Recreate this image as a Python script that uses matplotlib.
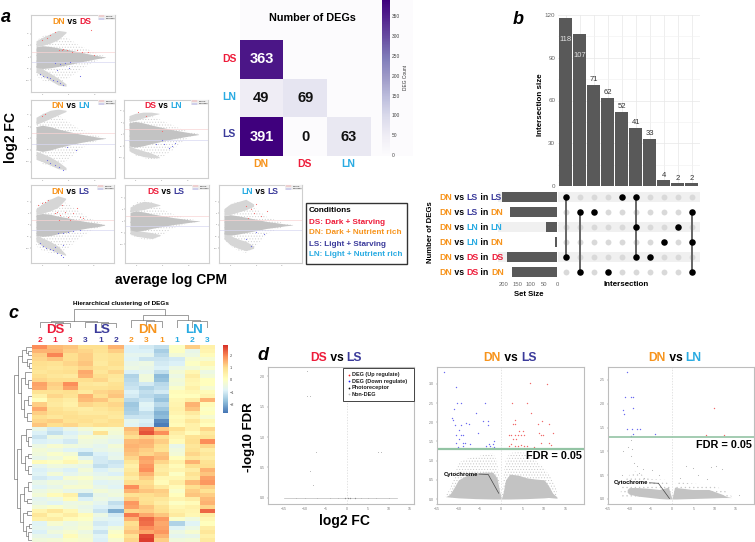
import numpy as np
import matplotlib
matplotlib.use("Agg")
import matplotlib.pyplot as plt
from matplotlib.colors import LinearSegmentedColormap
from matplotlib.lines import Line2D
from matplotlib.patches import Rectangle

plt.rcParams["font.family"] = ["Liberation Sans", "DejaVu Sans"]
plt.rcParams["hatch.linewidth"] = 0.4

W, H = 755, 542

DN = "#F7941D"
DS = "#EE1C3A"
LS = "#3B3B9B"
LN = "#29ABE2"
COND = {"DN": DN, "DS": DS, "LS": LS, "LN": LN}

# MA plots: shared log CPM grids and the outline of each cloud
MA_CPM = [-1.2, 0, 1.5, 3, 5, 7, 9, 10.5, 12]
WING_CPM = [-1.2, 0, 1.5, 3, 4.5]

DN_DS_BODY = [4.4, 4.9, 4.6, 4.0, 3.2, 2.2, 1.3, 0.6, 0.05]
DN_DS_UP = [7, 9, 10, 10.5, 8, 5, 3, 1.5, 0.3]
DN_DS_LOW = [-8, -10, -11, -11, -9, -6, -3, -1.5, -0.3]
DN_DS_WING = [[4.5, 5, 6, 7.5, 10.5], [7, 8.5, 10, 11.5, 11], [-3.5, -5, -7, -9, -11.5], [-6.5, -8, -10, -12, -12.5]]
DN_DS_RED = [[3.1, 3.7, 4.0, 4.7, 5.6, 6.6, 7.6, 8.7, 9.2, 9.8, 1.5, 2.4, 0.8, -0.1],
             [3.1, 2.9, 3.4, 3.1, 2.4, 3.1, 2.4, 2.0, 11.7, 1.0, 9.6, 11.0, 8.1, 7.4]]
DN_DS_BLUE = [[-0.4, 0.2, 0.8, 1.5, 2.1, 2.8, 3.4, 4.0, 2.4, 3.4, 4.4, 5.3, 2.8, 5.0, 7.2],
              [-7.1, -8, -8.6, -9, -9.7, -10.4, -11.1, -11.9, -2.6, -2.9, -2.6, -2.3, -5.4, -4.7, -8.3]]

DN_LN_BODY = [5.0, 5.6, 5.0, 4.0, 2.9, 1.9, 1.1, 0.5, 0.05]
DN_LN_UP = [8, 10.5, 11, 10, 7, 4, 2.5, 1, 0.2]
DN_LN_LOW = [-8, -11, -12, -12, -9, -5, -2.5, -1, -0.2]
DN_LN_WING = [[6, 7, 8.5, 10, 11.5], [9, 10.5, 12, 12.5, 12], [-5.5, -6.5, -8, -10, -12.5], [-9, -10, -11.5, -13, -13.5]]
DN_LN_RED = [[-0.1, 0.5], [9.5, 10.5]]
DN_LN_BLUE = [[0.8, 1.5, 2.4, 3.1, 4.0, 4.7, 6.3], [-9.3, -10.7, -11.4, -12.1, -13.5, -3.6, -5.0]]

DS_LN_BODY = [5.0, 5.5, 4.9, 4.0, 3.0, 2.0, 1.2, 0.6, 0.1]
DS_LN_UP = [7, 8.5, 9, 8, 6, 4, 2, 0.9, 0.2]
DS_LN_LOW = [-7, -9, -10, -11, -10, -7, -3, -1, -0.2]
DS_LN_WING = [[5.5, 6, 7, 8, 8.8], [8, 9, 9.5, 9.5, 9], [-5, -6, -7, -8, -9.5], [-7, -8.5, -9.5, -10, -10]]
DS_LN_RED = [[0.5, 2.0, 5.0], [9.5, 8.0, 1.5]]
DS_LN_BLUE = [[5.5, 5.0, 7.0, 6.3, 7.5, 4.0], [-4, -2.5, -5, -6, -3.5, -4]]

DN_LS_BODY = [4.4, 4.9, 4.6, 3.8, 3.0, 2.0, 1.2, 0.8, 0.1]
DN_LS_UP = [8, 10, 11, 11, 9, 6, 3, 1.5, 0.3]
DN_LS_LOW = [-9, -11, -12, -12, -10, -6, -3, -1.5, -0.3]
DN_LS_WING = [[4.5, 5, 6, 7.5, 11], [7, 9, 11, 12.5, 11.5], [-4, -5.5, -7, -9, -12.5], [-7, -9, -10.5, -12, -13]]
DN_LS_RED = [[-0.8, -0.1, 0.5, 1.2, 2.8, 3.4, 4.3, 5.0, 6.0, 6.6, 7.2, 7.9, 3.8, 2.4, 3.3, 5.3],
             [8.6, 9.3, 10, 10.7, 5.7, 4.3, 5.7, 3.6, 5, 7.1, 3.6, 2.9, 8.6, 5, 2.1, 2.1]]
DN_LS_BLUE = [[-0.4, 0.2, 0.8, 1.5, 2.1, 2.8, 3.7, 3.1, 4.0, 5.0, 6.0, 7.2, 4.0, 2.4, 4.0],
              [-7.9, -9, -9.7, -10.1, -10.7, -12.1, -12.9, -3.3, -3.6, -3, -2.7, -2.1, -8.6, -9.3, -13.9]]

DS_LS_BODY = [3.8, 4.4, 3.9, 3.1, 2.3, 1.5, 0.9, 0.4, 0.05]
DS_LS_UP = [6, 8, 9, 8, 5, 3, 1.5, 0.7, 0.2]
DS_LS_LOW = [-6, -7, -8, -8, -6, -3, -1.5, -0.7, -0.2]
DS_LS_WING = [[4, 4.5, 5, 6, 6.8], [6, 7.5, 8.5, 8, 7], [-3.5, -4, -4.5, -5, -5.8], [-5.5, -6.5, -7, -7.5, -6.2]]

LN_LS_BODY = [3.9, 4.4, 3.9, 3.3, 2.4, 1.5, 0.9, 0.4, 0.05]
LN_LS_UP = [6, 9, 10, 10, 7, 3.5, 1.8, 0.6, 0.1]
LN_LS_LOW = [-6, -9, -11, -12, -9, -4, -2, -0.6, -0.1]
LN_LS_WING = [[4, 4.5, 5.5, 6.5, 8], [7, 9, 10, 11, 9], [-3.5, -4.5, -6, -7, -9], [-6, -8.5, -10, -11, -10]]
LN_LS_RED = [[3, 4, 4.5, 5, 6, 7, 3.5], [8, 7, 5, 9, 4, 6, 3]]
LN_LS_BLUE = [[3, 5, 4, 6.5], [-6, -3, -9, -4]]

# number of DEGs per pair of conditions
DEG_ROWS = ["DS", "LN", "LS"]
DEG_COLS = ["DN", "DS", "LN"]
DEG_COUNTS = [[363, np.nan, np.nan],
              [49, 69, np.nan],
              [391, 0, 63]]

# upset plot
INTERSECT_SIZES = [118, 107, 71, 62, 52, 41, 33, 4, 2, 2]
SET_SIZES = [209, 177, 41, 6, 190, 169]
SET_NAMES = [("DN", "LS", "LS"), ("DN", "LS", "DN"), ("DN", "LN", "LN"),
             ("DN", "LN", "DN"), ("DN", "DS", "DS"), ("DN", "DS", "DN")]
MEMBERS = [[0, 4], [1, 5], [1], [5], [0], [0, 2, 4], [4], [3], [2], [1, 3, 5]]

# heatmap, columns follow HEAT_LABELS
HEAT_LABELS = ["2", "1", "3", "3", "1", "2", "2", "3", "1", "1", "2", "3"]
HEAT_COLORS = [DS] * 3 + [LS] * 3 + [DN] * 3 + [LN] * 3
HEAT = [
    [1.9, 1.4, 1.3, 1.0, 1.0, 1.5, -0.9, -1.0, -1.2, 0.0, 1.2, 0.5],
    [1.5, 1.5, 1.2, 1.1, 0.9, 1.2, -0.9, -0.9, -1.5, 0.0, -0.6, 0.4],
    [1.2, 2.0, 1.0, 1.2, 0.8, 0.9, -0.7, -0.7, -1.3, -0.3, -0.5, 0.2],
    [1.1, 1.3, 1.0, 1.2, 0.8, 0.9, -0.8, -1.1, -1.1, -1.0, -0.2, -0.2],
    [1.0, 0.9, 1.1, 1.3, 0.7, 1.0, -0.6, -0.5, -1.0, -0.9, 0.0, 0.3],
    [0.9, 0.8, 0.9, 1.1, 0.9, 0.8, -0.5, -0.6, -0.9, -0.5, -0.3, -0.1],
    [0.8, 0.9, 1.0, 1.6, 0.8, 1.1, -0.9, -0.7, -1.2, -0.3, 0.3, -0.5],
    [1.0, 0.8, 0.7, 1.5, 1.0, 0.8, -1.4, -0.4, -1.8, -0.5, 0.6, -0.3],
    [1.1, 1.0, 1.0, 1.0, 1.1, 0.7, -1.3, -0.4, -1.7, -0.3, 0.4, 0.1],
    [1.7, 1.2, 1.9, 0.8, 0.7, 0.9, -1.2, -1.0, -1.3, -0.4, 0.3, 0.1],
    [1.6, 1.1, 1.7, 0.9, 0.9, 1.0, -1.1, -1.4, -1.2, -0.1, 0.5, -0.2],
    [0.9, 0.9, 1.0, 0.7, 1.1, 1.2, -0.9, -1.2, -1.0, 0.2, 0.3, 0.2],
    [0.5, 1.1, 0.9, 1.5, 1.0, 1.3, -1.0, -1.3, -1.5, 0.1, 0.1, 0.4],
    [0.1, 0.8, 0.6, 1.4, 1.3, 0.9, -1.3, -1.1, -1.7, 0.3, 0.6, 1.5],
    [1.2, 0.7, 0.5, 1.1, 1.0, 1.1, -1.6, -0.8, -1.3, 0.4, 1.5, 0.2],
    [1.6, 0.9, 0.7, 0.6, 0.8, 1.0, -1.5, -0.9, -1.6, 0.5, 1.3, 0.0],
    [1.2, 1.0, 0.9, 0.7, 0.7, 0.8, -1.4, -1.2, -1.9, 0.4, 0.7, 0.1],
    [1.0, 0.8, 1.0, 0.9, 0.9, 0.7, -1.1, -1.1, -1.8, 0.2, 0.4, -0.2],
    [1.1, 1.2, 0.9, 1.0, 0.8, 1.0, -0.7, -0.9, -2.4, 0.3, 0.8, 0.3],
    [1.3, 1.0, 1.1, 0.8, 1.0, 0.9, -0.8, -1.0, -2.6, 0.2, 0.5, 0.1],
    [-0.6, -1.0, -0.6, -0.3, -0.1, -0.2, 1.4, 2.3, 1.3, 1.0, 0.5, 1.1],
    [-0.9, -1.2, -0.9, -0.6, 0.9, -0.3, 1.2, 2.5, 1.9, 0.6, 0.2, 0.7],
    [-1.1, -0.5, -0.7, -0.2, -0.3, -0.5, 1.0, 1.2, 1.0, 0.4, 0.9, 0.9],
    [-0.9, -0.8, -1.0, -0.4, -0.5, -0.7, 1.4, 1.5, 1.2, 0.2, 1.0, 1.9],
    [-0.5, -0.2, -0.4, -0.5, -0.7, -0.3, 1.5, 1.4, 1.0, -0.6, 0.8, 1.1],
    [-0.3, -0.5, -0.8, -0.9, -0.6, -0.5, 1.4, 1.2, 0.9, -0.4, 0.9, 0.6],
    [-0.4, -0.1, -0.3, -1.4, -0.9, -0.7, 1.3, 1.1, 1.3, -0.3, 1.1, 0.8],
    [-0.6, -0.4, 0.0, -0.7, -1.0, -0.6, 1.1, 1.7, 1.4, 0.1, 0.8, 0.6],
    [0.2, 0.0, 0.3, -0.2, -1.0, -1.1, 0.8, 1.6, 1.1, 0.5, 1.5, 0.9],
    [-0.7, -0.4, -0.5, -0.6, -1.2, -1.0, 0.5, 1.8, 0.7, 0.2, 1.0, 1.0],
    [-0.9, -0.7, -0.9, -0.3, -0.9, -0.6, 0.7, 1.9, 0.6, 0.4, 0.6, 1.5],
    [-0.8, -0.3, -0.7, -0.5, -0.7, -0.9, 0.9, 1.5, 0.8, 0.0, 0.9, 1.3],
    [-1.0, -0.9, -0.2, -0.1, -0.5, -0.4, 0.6, 1.2, 0.3, 0.3, 0.7, 1.7],
    [-0.6, -0.4, -0.5, -0.3, -0.8, -0.7, 1.0, 1.0, 0.2, 0.6, 1.4, 1.8],
    [-0.8, -0.6, -0.2, -0.2, -0.6, -0.8, 1.9, 1.1, 0.7, 0.2, 1.0, 1.2],
    [-0.5, -0.3, -0.6, -0.7, -0.3, -0.5, 1.5, 1.3, 1.2, -0.1, 1.2, 0.9],
    [-0.3, 0.2, 0.5, -1.4, -0.6, -0.4, 0.9, 1.0, 1.1, 0.1, 1.3, 1.2],
    [-0.7, -0.5, 0.2, -0.9, -0.5, -0.7, 1.2, 0.9, 0.8, 0.4, 0.6, 1.4],
    [-0.6, -0.8, -0.5, -0.4, -0.7, -1.2, 1.8, 1.0, 0.6, 0.0, 0.2, 1.5],
    [-0.3, -0.1, -0.4, -0.6, -0.9, -1.0, 1.7, 1.3, 0.9, 0.3, 0.5, 1.1],
    [0.4, 0.8, 0.3, -0.5, -1.1, -2.0, 1.1, 1.2, 1.0, 0.5, 0.4, 2.3],
    [0.8, 0.3, 0.6, 0.2, -0.5, -1.0, 2.1, 1.6, 1.3, 0.7, 0.3, 0.6],
    [0.5, 0.6, 0.2, 0.0, -0.7, -0.8, 1.5, 2.3, 1.8, -0.1, -0.4, 0.3],
    [-0.8, -0.2, -0.5, -0.3, -1.0, -0.9, 1.0, 2.2, 1.6, -1.4, -0.8, 0.1],
    [-0.7, -0.6, -0.4, -0.2, -0.8, -0.4, 1.1, 1.9, 1.7, -0.8, -0.5, 0.6],
    [-0.9, -0.4, -0.2, -0.5, -1.1, -0.1, 1.3, 1.6, 1.8, -0.5, -0.2, 0.8],
    [-0.6, -0.7, 0.2, -0.3, -0.8, 0.1, 0.9, 2.6, 1.5, -0.7, -0.6, 0.5],
    [-0.4, -0.3, -0.1, -0.2, -0.9, -0.2, 1.1, 2.7, 1.2, -0.4, -0.3, 0.7],
]
# (height, left, right), ints are leaves
COL_TREE = (1.0,
            (0.35, (0.31, 0, (0.26, 1, 2)), (0.31, 3, (0.26, 4, 5))),
            (0.7, (0.40, 6, (0.35, 7, 8)), (0.44, 9, (0.35, 10, 11))))
ROW_TREE = (1.0,
            (0.8, (0.55, (0.35, 0, (0.2, 1, 2)), (0.3, 3, (0.15, 4, 5))),
             (0.6, (0.4, 6, (0.2, 8, 10)), (0.45, (0.2, 12, 14), (0.3, 16, 18)))),
            (0.85, (0.6, (0.35, 20, (0.2, 22, 24)), (0.4, (0.2, 26, 27), (0.25, 29, 31))),
             (0.65, (0.45, (0.25, 33, 35), (0.3, 37, 38)), (0.5, (0.3, 40, 41), (0.35, (0.15, 43, 44), (0.2, 45, 47))))))

# volcano plots, x is log2 FC and y is -log10 FDR
DS_LS_GRAY = [[-9.5, -9.5, -8.7, -7.3, -8.6, -7.9, 7.5, 8.1, -12, -10, -7, -4, -2, 2, 3.5, 5, 7, 10],
              [2.09, 1.67, 1.67, 0.75, 0.44, 0.21, 0.75, 0.75, 0, 0, 0, 0, 0, 0, 0, 0, 0, 0]]
DS_LS_DARK = [[-0.4, 0.2, 0.9, 2.0], [0, 0, 0, 0]]

DN_LS_VOLC_BLUE = [[-13.3, -10.5, -10.3, -9.5, -11, -11.6, -11.2, -10.8, -9.3, -8.2, -7.6, -5.8, -3.8, -4.3, -3.2, -3.2, -5.5,
                    -9.8, -10.5, -9.5, -8.9, -9.8, -10.5, -8.9, -8.4, -7.4, -10.1, -8.9, -3.5, -2.9, -2, -1.6, -3.5, -2.6, -2.2, -1.6],
                   [3.30, 2.93, 2.50, 2.50, 2.35, 2.10, 2.06, 1.94, 1.94, 1.97, 1.95, 2.23, 2.50, 2.04, 2.04, 1.93, 1.71,
                    1.80, 1.67, 1.67, 1.67, 1.57, 1.45, 1.47, 1.47, 1.43, 1.35, 1.37, 1.39, 1.43, 1.43, 1.5, 1.34, 1.37, 1.32, 1.35]]
DN_LS_VOLC_RED = [[6.7, 10.7, 2.5, 5.9, 6.9, 3.1, 2.7, 3.3, 8.6, 9.6, 11.1, 9.7, 12, 8.8, 9.2, 2.3, 1.9, 2.3, 3.1, 3.8, 4.6, 5.4,
                   5.9, 7.7, 9.2, 11.1, 11.7, 4.2, 5.1, 3.8, 4.6, 5.4, 2.7, 3.4, 3.1, 1.9],
                  [3.02, 3.0, 2.5, 2.5, 2.23, 2.06, 1.95, 1.95, 1.95, 2.04, 1.95, 1.67, 1.73, 1.71, 1.67, 1.67, 1.37, 1.43, 1.38, 1.37, 1.41, 1.37,
                   1.39, 1.35, 1.47, 1.47, 1.41, 1.78, 1.78, 1.67, 1.67, 1.67, 1.57, 1.57, 1.67, 1.67]]
VOLC2_LEFT_X = [-13, -12, -11, -10, -8, -6, -4, -2, -1, -0.4, 0]
VOLC2_LEFT_TOP = [0.06, 0.12, 0.30, 0.50, 0.62, 0.68, 0.70, 0.70, 0.55, 0.20, 0.0]
VOLC2_LEFT_BOT = [0.06, 0.05, 0.04, 0.03, 0.02, 0.01, 0.005, 0, 0, 0, 0]
VOLC2_LEFT_SPARSE = [0.10, 0.25, 0.6, 0.95, 1.05, 1.1, 1.15, 1.2, 1.0, 0.5, 0.0]
VOLC2_RIGHT_X = [0, 0.4, 1, 2, 4, 6, 8, 10, 11, 12, 13]
VOLC2_RIGHT_TOP = [0, 0.15, 0.50, 0.65, 0.62, 0.55, 0.52, 0.50, 0.35, 0.15, 0.05]
VOLC2_RIGHT_BOT = [0, 0, 0, 0, 0.005, 0.01, 0.02, 0.03, 0.04, 0.03, 0.02]
VOLC2_RIGHT_SPARSE = [0, 0.5, 1.0, 1.2, 1.22, 1.2, 1.0, 0.8, 0.65, 0.5, 0.2]
VOLC2_CYTO = [[-5.2, -3.05, -0.6], [0.65, 0.64, 0.15]]

DN_LN_VOLC_BLUE = [[-10.5, -11, -9.5, -9.1, -9.1, -11.5, -11.3, -10.5, -9.3, -8.3, -7.4, -9.1, -9.5, -4],
                   [2.66, 2.15, 2.15, 2.15, 1.92, 1.87, 1.78, 1.46, 1.46, 1.46, 1.46, 1.37, 1.33, 1.37]]
DN_LN_VOLC_RED = [[9.8, 7.9, 12.1], [1.92, 1.34, 1.34]]
DN_LN_VOLC_GRAY = [[-9.7, -10.2, -9.3, -11.5, -9.5, -8.3, -7.7, -6.7, -9.0, -11.8, 3.2, 5.0, 9.2, 10.4, 11.8, 6.1, 8.2, 15.8, -4.8, -3.0, 1.9, -6.5, -7.2],
                   [1.24, 1.1, 1.05, 1.0, 0.9, 0.7, 0.55, 0.62, 0.75, 0.5, 0.7, 0.65, 0.68, 0.7, 0.62, 0.5, 0.42, 0.09, 0.6, 0.5, 0.45, 0.45, 0.38]]
VOLC3_LEFT_X = [-10.5, -10, -8, -5, -3, -1.2, -0.9, 0]
VOLC3_LEFT_TOP = [0.20, 0.24, 0.24, 0.22, 0.20, 0.24, 0.26, 0.0]
VOLC3_LEFT_BOT = [0.14, 0.10, 0.06, 0.03, 0.01, 0, 0, 0]
VOLC3_RIGHT_X = [0, 0.6, 1, 4.8, 8.6, 11.7, 12.8, 14]
VOLC3_RIGHT_TOP = [0, 0.25, 0.24, 0.2, 0.2, 0.1, 0.05, 0.03]
VOLC3_RIGHT_BOT = [0, 0, 0, 0.01, 0.02, 0.03, 0.03, 0.03]
VOLC3_SPARSE_X = [-12, -9, -5, -1.5, -0.6, 0, 0.6, 1.5, 5, 9, 12, 14]
VOLC3_SPARSE_Y = [0.3, 0.6, 0.42, 0.4, 0.3, 0, 0.3, 0.36, 0.32, 0.3, 0.2, 0.06]
VOLC3_CYTO = [[-5.3, -3.2, -0.6], [0.34, 0.33, 0.01]]

LEGEND_LINES = [("Conditions", "black"), ("DS: Dark + Starving", DS), ("DN: Dark + Nutrient rich", DN),
                ("LS: Light + Starving", LS), ("LN: Light + Nutrient rich", LN)]
VOLC_LEGEND = [("#ee2222", "DEG (Up regulate)"), ("#2222ee", "DEG (Down regulate)"),
               ("#111111", "Photoreceptor"), ("#bbbbbb", "Non-DEG")]

fig = plt.figure(figsize=(W / 100, H / 100), dpi=100)
renderer = fig.canvas.get_renderer()


def px_axes(left, top, right, bottom):
    return fig.add_axes([left / W, 1 - bottom / H, (right - left) / W, (bottom - top) / H])


# transparent overlay in pixel units, for all the loose labels
over = fig.add_axes([0, 0, 1, 1], zorder=20)
over.set_xlim(0, W)
over.set_ylim(H, 0)
over.axis("off")


def text_width(s, **kw):
    t = over.text(0, 0, s + "x", **kw)
    w = t.get_window_extent(renderer).width
    t.set_text("x")
    w -= t.get_window_extent(renderer).width
    t.remove()
    return w


def colored(x, y, parts, size, ha="center", weight="bold"):
    # one line of text with a colour per word
    full = "".join(p[0] for p in parts)
    total = text_width(full, fontsize=size, fontweight=weight)
    if ha == "center":
        x -= total / 2
    elif ha == "right":
        x -= total
    prefix = ""
    for s, c in parts:
        off = text_width(prefix, fontsize=size, fontweight=weight) if prefix else 0
        over.text(x + off, y, s, fontsize=size, fontweight=weight, color=c, ha="left", va="center")
        prefix += s


def vs_title(x, y, a, b, size):
    colored(x, y, [(a, COND[a]), (" vs ", "black"), (b, COND[b])], size)


def stipple(ax, x, lo, hi, color="#d0d0d0", hatch="......"):
    ax.fill_between(x, lo, hi, facecolor="none", edgecolor=color, hatch=hatch, lw=0)


def ma_panel(box, ylim, body, up, low, wing, red=None, blue=None):
    ax = px_axes(*box)
    x = MA_CPM
    stipple(ax, x, low, up)
    ax.fill_between(WING_CPM, wing[0], wing[1], color="#d6d6d6", lw=0)
    ax.fill_between(WING_CPM, wing[2], wing[3], color="#d6d6d6", lw=0)
    ax.fill_between(x, -np.array(body), body, color="#c3c3c3", lw=0)
    ax.axhline(2.3, color="#f8d4d4", lw=0.5)
    ax.axhline(-2.3, color="#d8d8f2", lw=0.5)
    if red:
        ax.scatter(red[0], red[1], s=0.7, color="#f46a6a", lw=0, zorder=3)
    if blue:
        ax.scatter(blue[0], blue[1], s=0.7, color="#6a6ae6", lw=0, zorder=3)
    ax.set_xlim(-2.15, 13.8)
    ax.set_ylim(*ylim)
    ax.set_xticks([0, 5, 10])
    ax.set_yticks([-10, -5, 0, 5, 10])
    ax.tick_params(labelsize=1.5, length=1, width=0.3, pad=0.5, colors="#777777")
    for s in ax.spines.values():
        s.set_color("#cfcfcf")
        s.set_linewidth(0.8)
    handles = [Line2D([], [], color="#f05a5a", lw=0.3), Line2D([], [], color="#5a5ae0", lw=0.3)]
    ax.legend(handles, ["DEG up", "DEG down"], fontsize=1.3, loc="upper right", borderaxespad=0,
              facecolor="#eeeeee", edgecolor="none", framealpha=1, handlelength=3)
    return ax


ma_panel((31, 15, 115, 92), (-15, 18.1), DN_DS_BODY, DN_DS_UP, DN_DS_LOW, DN_DS_WING, DN_DS_RED, DN_DS_BLUE)
ma_panel((31, 100, 115, 178), (-17, 16.4), DN_LN_BODY, DN_LN_UP, DN_LN_LOW, DN_LN_WING, DN_LN_RED, DN_LN_BLUE)
ma_panel((124, 100, 208, 178), (-18.7, 14.7), DS_LN_BODY, DS_LN_UP, DS_LN_LOW, DS_LN_WING, DS_LN_RED, DS_LN_BLUE)
ma_panel((31, 185, 114, 263), (-16.3, 17.1), DN_LS_BODY, DN_LS_UP, DN_LS_LOW, DN_LS_WING, DN_LS_RED, DN_LS_BLUE)
ma_panel((125, 185, 209, 263), (-18, 15.5), DS_LS_BODY, DS_LS_UP, DS_LS_LOW, DS_LS_WING)
ma_panel((219, 185, 302, 263), (-16.3, 17.1), LN_LS_BODY, LN_LS_UP, LN_LS_LOW, LN_LS_WING, LN_LS_RED, LN_LS_BLUE)

vs_title(72, 21, "DN", "DS", 6.2)
vs_title(71, 106, "DN", "LN", 6.2)
vs_title(163, 106, "DS", "LN", 6.2)
vs_title(70, 192, "DN", "LS", 6.2)
vs_title(166, 192, "DS", "LS", 6.2)
vs_title(260, 192, "LN", "LS", 6.2)

over.text(6, 17, "a", fontsize=13, fontweight="bold", fontstyle="italic", ha="center", va="center")
over.text(11, 138, "log2 FC", fontsize=10, fontweight="bold", rotation=90, ha="center", va="center")
over.text(171, 280, "average log CPM", fontsize=10, fontweight="bold", ha="center", va="center")

# DEG count triangle
fig.add_artist(Rectangle((240 / W, 1 - 156 / H), 173 / W, 156 / H, transform=fig.transFigure,
                         facecolor="#fcfbfd", edgecolor="none", zorder=-1))
ax = px_axes(239.5, 40, 371, 156)
counts = np.ma.masked_invalid(DEG_COUNTS)
mesh = ax.pcolormesh(counts, cmap="Purples", vmin=0, vmax=391)
ax.set_ylim(3, 0)
ax.axis("off")
for r in range(3):
    for c in range(3):
        v = DEG_COUNTS[r][c]
        if not np.isnan(v):
            ax.text(c + 0.5, r + 0.5, str(int(v)), ha="center", va="center", fontsize=10.5, fontweight="bold",
                    color="white" if v > 200 else "#111111")
cax = px_axes(382, 0, 390, 155)
cb = fig.colorbar(mesh, cax=cax)
cb.outline.set_visible(False)
cb.set_ticks(range(0, 351, 50))
cb.ax.tick_params(labelsize=3.5, length=0, pad=1.5, colors="#444444")
cb.set_label("DEG Count", fontsize=3.5, color="#333333", labelpad=2)
for i, name in enumerate(DEG_ROWS):
    over.text(229, 59 + i * 37.7, name, color=COND[name], fontsize=7.5, fontweight="bold", ha="center", va="center")
for i, name in enumerate(DEG_COLS):
    over.text(261 + i * 43.5, 164, name, color=COND[name], fontsize=7.5, fontweight="bold", ha="center", va="center")
over.text(312, 18, "Number of DEGs", fontsize=7.8, fontweight="bold", ha="center", va="center")

# conditions box
over.add_patch(Rectangle((306, 203), 101, 61, facecolor="white", edgecolor="#333333", lw=1))
for i, (line, col) in enumerate(LEGEND_LINES):
    over.text(309, 211 + i * 11, line, color=col, fontsize=5.9, fontweight="bold", ha="left", va="center")

# upset plot: intersection bars
ax = px_axes(558, 15, 700, 186)
cols = np.arange(len(INTERSECT_SIZES))
ax.set_axisbelow(True)
ax.bar(cols, INTERSECT_SIZES, width=0.9, color="#595959")
ax.set_xlim(-0.55, 9.6)
ax.set_ylim(0, 120)
ax.set_yticks([0, 30, 60, 90, 120])
ax.set_yticks([15, 45, 75, 105], minor=True)
ax.set_xticks(cols)
ax.grid(True, which="major", color="#e8e8e8", lw=0.5)
ax.grid(True, which="minor", axis="y", color="#f0f0f0", lw=0.4)
ax.tick_params(which="both", length=0)
ax.tick_params(axis="y", labelsize=4.5, colors="#666666", pad=2)
ax.set_xticklabels([])
for s in ax.spines.values():
    s.set_visible(False)
for i, v in enumerate(INTERSECT_SIZES):
    if v > 100:
        ax.annotate(str(v), (i, v), xytext=(0, -22), textcoords="offset pixels", ha="center", va="center",
                    fontsize=5.5, color="#e4e4e4")
    else:
        ax.annotate(str(v), (i, v), xytext=(0, 5), textcoords="offset pixels", ha="center", va="center",
                    fontsize=5.5, color="#333333")
over.text(541, 105, "Intersection size", fontsize=5.8, fontweight="bold", rotation=90, ha="center", va="center")
over.text(518, 20, "b", fontsize=13, fontweight="bold", fontstyle="italic", ha="center", va="center")

# upset plot: set sizes, left of the dot matrix
ax = px_axes(498, 189.5, 557, 279.5)
rows = np.arange(len(SET_SIZES))
for r in rows[::2]:
    ax.axhspan(r - 0.33, r + 0.33, color="#f0f0f0", lw=0)
ax.barh(rows, SET_SIZES, height=0.66, color="#595959")
ax.set_xlim(222.6, 0)
ax.set_ylim(5.5, -0.5)
ax.set_yticks([])
ax.set_xticks([200, 150, 100, 50, 0])
ax.tick_params(axis="x", labelsize=4.2, length=0, colors="#666666", pad=2)
for s in ax.spines.values():
    s.set_visible(False)

# upset plot: dot matrix
ax = px_axes(558, 189.5, 700, 279.5)
for r in rows[::2]:
    ax.axhspan(r - 0.33, r + 0.33, color="#f0f0f0", lw=0)
for c, members in enumerate(MEMBERS):
    ax.scatter([c] * 6, rows, s=18, color="#d9d9d9", lw=0, zorder=2)
    if len(members) > 1:
        ax.plot([c, c], [min(members), max(members)], color="#666666", lw=1.4, zorder=3)
    ax.scatter([c] * len(members), members, s=22, color="black", lw=0, zorder=4)
ax.set_xlim(-0.55, 9.6)
ax.set_ylim(5.5, -0.5)
ax.axis("off")

for i, (a, b, c) in enumerate(SET_NAMES):
    colored(439, 198 + i * 14.9, [(a, COND[a]), (" vs ", "black"), (b, COND[b]), (" in ", "black"), (c, COND[c])],
            6.3, ha="left")
over.text(431, 232, "Number of DEGs", fontsize=5.6, fontweight="bold", rotation=90, ha="center", va="center")
over.text(529, 295, "Set Size", fontsize=5.6, fontweight="bold", ha="center", va="center")
over.text(626, 285, "Intersection", fontsize=5.8, fontweight="bold", ha="center", va="center")

# clustered heatmap
heat_cmap = LinearSegmentedColormap.from_list(
    "rdylbu", ["#4575B4", "#91BFDB", "#E0F3F8", "#FFFFBF", "#FEE090", "#FC8D59", "#D73027"])
ax = px_axes(32, 345, 215, 542)
heat_im = ax.pcolormesh(np.array(HEAT), cmap=heat_cmap, vmin=-2.7, vmax=2.85)
ax.set_ylim(len(HEAT), 0)
ax.axis("off")
for i, (lab, col) in enumerate(zip(HEAT_LABELS, HEAT_COLORS)):
    over.text(32 + (i + 0.5) * 15.25, 341, lab, color=col, fontsize=6, fontweight="bold", ha="center", va="center")
for name, x in (("DS", 55), ("LS", 102), ("DN", 148), ("LN", 194)):
    over.text(x, 330, name, color=COND[name], fontsize=9.5, fontweight="bold", ha="center", va="center")
over.text(121, 303, "Hierarchical clustering of DEGs", fontsize=4.6, fontweight="bold", ha="center", va="center")
over.text(13, 313, "c", fontsize=13, fontweight="bold", fontstyle="italic", ha="center", va="center")


def draw_tree(ax, node, horizontal):
    # recursive dendrogram, returns position and height of the node
    if isinstance(node, int):
        return node + 0.5, 0.0
    h, a, b = node
    pa, ha = draw_tree(ax, a, horizontal)
    pb, hb = draw_tree(ax, b, horizontal)
    xs, ys = [pa, pa, pb, pb], [ha, h, h, hb]
    if horizontal:
        xs, ys = ys, xs
    ax.plot(xs, ys, color="#777777", lw=0.5, solid_joinstyle="miter")
    return (pa + pb) / 2, h


ax = px_axes(32, 309, 215, 328)
draw_tree(ax, COL_TREE, False)
ax.set_xlim(0, 12)
ax.set_ylim(0, 1)
ax.axis("off")

ax = px_axes(14, 345, 32, 542)
draw_tree(ax, ROW_TREE, True)
ax.set_xlim(1, 0)
ax.set_ylim(len(HEAT), 0)
ax.axis("off")

cax = px_axes(223, 345, 228, 413)
cb = fig.colorbar(heat_im, cax=cax)
cb.outline.set_visible(False)
cb.set_ticks([-2, -1, 0, 1, 2])
cb.ax.tick_params(labelsize=2.8, length=0, pad=1, colors="#444444")


# volcano plots
def volcano_axes(box, xlim, ylim, yticks):
    ax = px_axes(*box)
    ax.set_xlim(*xlim)
    ax.set_ylim(*ylim)
    ax.set_xticks([-15, -10, -5, 0, 5, 10, 15])
    ax.set_yticks(yticks)
    ax.tick_params(labelsize=2.5, length=1, width=0.3, pad=1, colors="#777777")
    for s in ax.spines.values():
        s.set_color("#bdbdbd")
        s.set_linewidth(0.8)
    ax.axvline(0, color="#d8d8d8", lw=0.5, ls=(0, (2, 2)))
    return ax


ax = volcano_axes((268, 367, 414, 504), (-18.7, 16), (-0.1, 2.15), [0, 0.5, 1, 1.5, 2])
ax.scatter(DS_LS_GRAY[0], DS_LS_GRAY[1], s=0.5, color="#b8b8b8", lw=0)
ax.plot([-15, 12], [0, 0], color="#bbbbbb", lw=0.5)
ax.scatter(DS_LS_DARK[0], DS_LS_DARK[1], s=0.8, color="#222222", lw=0)
over.add_patch(Rectangle((343, 368), 71, 33, facecolor="white", edgecolor="#444444", lw=0.7))
for i, (col, name) in enumerate(VOLC_LEGEND):
    over.scatter([349], [374.7 + i * 6.45], s=1.6, color=col, lw=0)
    over.text(351.7, 374.7 + i * 6.45, name, fontsize=4, fontweight="bold", ha="left", va="center", color="#222222")

ax = volcano_axes((437, 367, 584, 504), (-14.4, 19.3), (-0.13, 3.44), [0, 0.5, 1, 1.5, 2, 2.5, 3])
stipple(ax, VOLC2_LEFT_X, VOLC2_LEFT_BOT, VOLC2_LEFT_SPARSE, color="#c6c6c6")
stipple(ax, VOLC2_RIGHT_X, VOLC2_RIGHT_BOT, VOLC2_RIGHT_SPARSE, color="#c6c6c6")
ax.fill_between(VOLC2_LEFT_X, VOLC2_LEFT_BOT, VOLC2_LEFT_TOP, color="#c3c3c3", lw=0)
ax.fill_between(VOLC2_RIGHT_X, VOLC2_RIGHT_BOT, VOLC2_RIGHT_TOP, color="#c3c3c3", lw=0)
ax.scatter(DN_LS_VOLC_BLUE[0], DN_LS_VOLC_BLUE[1], s=1, color="#6a6af0", lw=0)
ax.scatter(DN_LS_VOLC_RED[0], DN_LS_VOLC_RED[1], s=1, color="#f06a6a", lw=0)
ax.axhline(1.3, color="#93c4a4", lw=1.6)
ax.plot(VOLC2_CYTO[0], VOLC2_CYTO[1], color="#444444", lw=0.5)
ax.text(-5.4, 0.65, "Cytochrome", fontsize=4.2, fontweight="bold", ha="right", va="center")
ax.text(18.9, 1.12, "FDR = 0.05", fontsize=7.8, fontweight="bold", ha="right", va="center")

ax = volcano_axes((608, 367, 754, 504), (-14.4, 19.2), (-0.105, 2.77), [0, 0.5, 1, 1.5, 2, 2.5])
stipple(ax, VOLC3_SPARSE_X, 0, VOLC3_SPARSE_Y, color="#c6c6c6", hatch="....")
ax.fill_between(VOLC3_LEFT_X, VOLC3_LEFT_BOT, VOLC3_LEFT_TOP, color="#c3c3c3", lw=0)
ax.fill_between(VOLC3_RIGHT_X, VOLC3_RIGHT_BOT, VOLC3_RIGHT_TOP, color="#c3c3c3", lw=0)
ax.scatter(DN_LN_VOLC_GRAY[0], DN_LN_VOLC_GRAY[1], s=0.6, color="#b0b0b0", lw=0)
ax.scatter(DN_LN_VOLC_BLUE[0], DN_LN_VOLC_BLUE[1], s=1, color="#6a6af0", lw=0)
ax.scatter(DN_LN_VOLC_RED[0], DN_LN_VOLC_RED[1], s=1, color="#f06a6a", lw=0)
ax.axhline(1.3, color="#93c4a4", lw=1.2)
ax.plot(VOLC3_CYTO[0], VOLC3_CYTO[1], color="#444444", lw=0.5)
ax.text(-5.5, 0.34, "Cytochrome", fontsize=4.2, fontweight="bold", ha="right", va="center")
ax.text(18.7, 1.13, "FDR = 0.05", fontsize=7.8, fontweight="bold", ha="right", va="center")

vs_title(336, 358, "DS", "LS", 8.7)
vs_title(510, 358, "DN", "LS", 8.7)
vs_title(675, 358, "DN", "LN", 8.7)
over.text(263, 356, "d", fontsize=13, fontweight="bold", fontstyle="italic", ha="center", va="center")
over.text(249, 437, "-log10 FDR", fontsize=9.5, fontweight="bold", rotation=90, ha="center", va="center")
over.text(344, 521, "log2 FC", fontsize=10, fontweight="bold", ha="center", va="center")

fig.savefig("out.png", dpi=100)
